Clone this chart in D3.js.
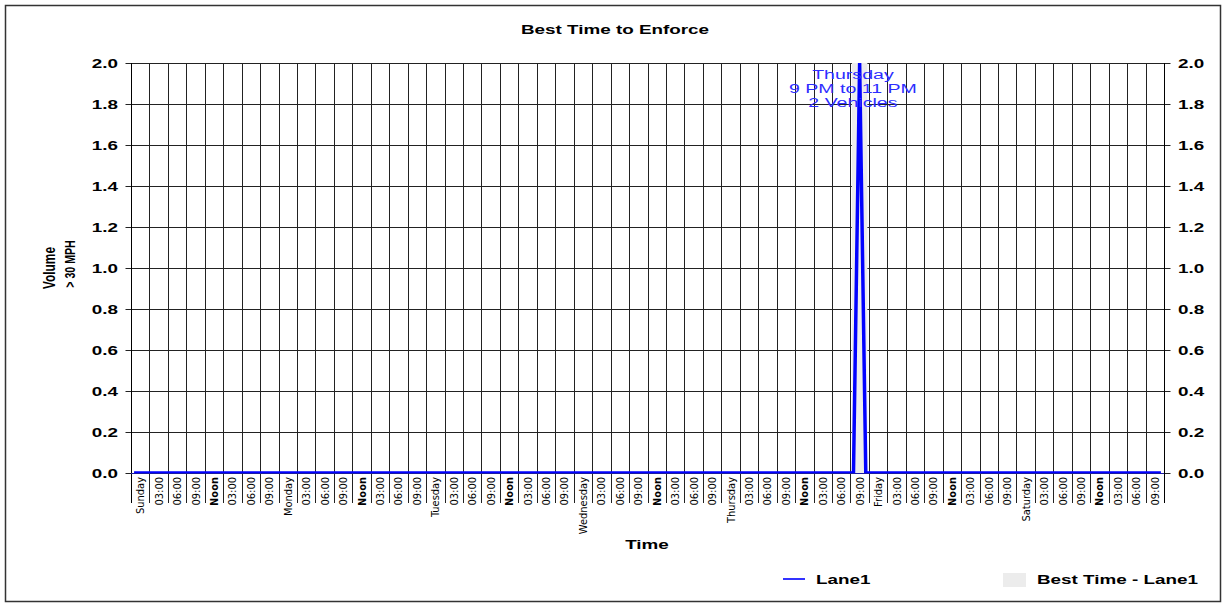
<!DOCTYPE html>
<html>
<head>
<meta charset="utf-8">
<script src="https://cdn.jsdelivr.net/npm/d3@7"></script>
<style>
  body { margin: 0; background: #fff; }
  svg { display: block; }
  .bold { font-family: "Liberation Sans", Arial, sans-serif; font-weight: bold; }
  .narrow { font-family: "Liberation Sans Narrow", "Arial Narrow", "DejaVu Sans Condensed", sans-serif; }
</style>
</head>
<body>
<svg id="chart" width="1226" height="604"></svg>
<script>
// days across the x axis, each split into 8 three-hour bins
var days = ["Sunday", "Monday", "Tuesday", "Wednesday", "Thursday", "Friday", "Saturday"];
var binLabels = ["", "03:00", "06:00", "09:00", "Noon", "03:00", "06:00", "09:00"];
var yTicks = [0, 0.2, 0.4, 0.6, 0.8, 1.0, 1.2, 1.4, 1.6, 1.8, 2.0];

// Lane1 volume > 30 MPH, hourly, one row per day (00:00 .. 23:00)
var lane1Sunday    = [0,0,0,0,0,0,0,0,0,0,0,0,0,0,0,0,0,0,0,0,0,0,0,0];
var lane1Monday    = [0,0,0,0,0,0,0,0,0,0,0,0,0,0,0,0,0,0,0,0,0,0,0,0];
var lane1Tuesday   = [0,0,0,0,0,0,0,0,0,0,0,0,0,0,0,0,0,0,0,0,0,0,0,0];
var lane1Wednesday = [0,0,0,0,0,0,0,0,0,0,0,0,0,0,0,0,0,0,0,0,0,0,0,0];
var lane1Thursday  = [0,0,0,0,0,0,0,0,0,0,0,0,0,0,0,0,0,0,0,0,0,0,2,0];
var lane1Friday    = [0,0,0,0,0,0,0,0,0,0,0,0,0,0,0,0,0,0,0,0,0,0,0,0];
var lane1Saturday  = [0,0,0,0,0,0,0,0,0,0,0,0,0,0,0,0,0,0,0,0,0,0,0,0];

// best time window (hours of week) and its note
var bestTime = [117, 120];
var bestNote = ["Thursday", "9 PM to 11 PM", "2 Vehicles"];

var lane1 = [].concat(lane1Sunday, lane1Monday, lane1Tuesday, lane1Wednesday,
                      lane1Thursday, lane1Friday, lane1Saturday);

var svg = d3.select("#chart");
var plotL = 131, plotR = 1164, plotT = 63, plotB = 473;
var wide = 1.45; // the source text is drawn stretched sideways

var x = d3.scaleLinear().domain([0, 168]).range([plotL, plotR]);
var y = d3.scaleLinear().domain([0, 2]).range([plotB, plotT]);

function wideText(g, px, py, txt, anchor) {
  return g.append("text").attr("class", "bold").attr("font-size", 13)
    .attr("text-anchor", anchor || "start")
    .attr("transform", "translate(" + px + "," + py + ") scale(" + wide + ",1)")
    .text(txt);
}

// outer frame
svg.append("rect")
  .attr("x", 5.5).attr("y", 5.5).attr("width", 1215).attr("height", 596)
  .attr("fill", "none").attr("stroke", "#333").attr("stroke-width", 1.5);

wideText(svg, 615, 34, "Best Time to Enforce", "middle");

// bins
var bins = [];
days.forEach(function (d, i) {
  binLabels.forEach(function (b, j) {
    bins.push({ start: i * 24 + j * 3, label: j === 0 ? d : b });
  });
});

// grid
var grid = svg.append("g").attr("stroke", "#222").attr("stroke-width", 1);
grid.selectAll("line.h").data(yTicks).enter().append("line")
  .attr("x1", plotL).attr("x2", plotR)
  .attr("y1", function (d) { return Math.round(y(d)) + 0.5; })
  .attr("y2", function (d) { return Math.round(y(d)) + 0.5; });
grid.selectAll("line.v").data(bins.concat([{ start: 168 }])).enter().append("line")
  .attr("x1", function (d) { return Math.round(x(d.start)) + 0.5; })
  .attr("x2", function (d) { return Math.round(x(d.start)) + 0.5; })
  .attr("y1", plotT).attr("y2", plotB + 30);

// best time band
svg.append("rect")
  .attr("x", x(bestTime[0]) + 1.5).attr("y", plotT)
  .attr("width", x(bestTime[1]) - x(bestTime[0]) - 3)
  .attr("height", plotB - plotT)
  .attr("fill", "#ececec");

// y axes
var yl = svg.append("g").attr("transform", "translate(" + (plotL + 0.5) + ",0)")
  .call(d3.axisLeft(y).tickValues(yTicks).tickSize(6).tickFormat(d3.format(".1f")));
var yr = svg.append("g").attr("transform", "translate(" + (plotR + 0.5) + ",0)")
  .call(d3.axisRight(y).tickValues(yTicks).tickSize(6).tickFormat(d3.format(".1f")));
[[yl, -13.5], [yr, 13.5]].forEach(function (p) {
  var g = p[0];
  g.select(".domain").remove();
  g.selectAll("line").attr("stroke", "#222");
  g.selectAll("text").attr("class", "bold").attr("font-size", 13).attr("fill", "#000")
    .attr("x", 0)
    .attr("transform", "translate(" + p[1] + ",0) scale(" + wide + ",1)");
});
svg.append("line").attr("x1", plotL + 0.5).attr("x2", plotL + 0.5)
  .attr("y1", plotT).attr("y2", plotB + 30).attr("stroke", "#000");
svg.append("line").attr("x1", plotR + 0.5).attr("x2", plotR + 0.5)
  .attr("y1", plotT).attr("y2", plotB + 30).attr("stroke", "#000");

// x tick labels
svg.append("g").selectAll("text").data(bins).enter().append("text")
  .attr("class", "narrow")
  .attr("font-size", 11)
  .attr("font-weight", function (d) { return d.label === "Noon" ? "bold" : "normal"; })
  .attr("text-anchor", "end")
  .attr("transform", function (d) {
    return "translate(" + (x(d.start + 1.5) + 4) + "," + (plotB + 4) + ") rotate(-90)";
  })
  .text(function (d) { return d.label; });

// Lane1 line
svg.append("clipPath").attr("id", "plot").append("rect")
  .attr("x", plotL).attr("y", plotT).attr("width", plotR - plotL).attr("height", plotB - plotT + 0.5);
var line = d3.line()
  .x(function (d, i) { return x(i + 0.5); })
  .y(function (d) { return y(d); });
svg.append("path").datum(lane1)
  .attr("clip-path", "url(#plot)")
  .attr("d", line)
  .attr("fill", "none").attr("stroke", "#0000ff").attr("stroke-width", 3.5);
svg.append("line").attr("x1", plotL).attr("x2", plotR)
  .attr("y1", plotB + 0.5).attr("y2", plotB + 0.5)
  .attr("stroke", "#1a1aa0").attr("stroke-width", 1);

// note
svg.append("g").selectAll("text").data(bestNote).enter().append("text")
  .attr("font-family", "Liberation Sans, Arial, sans-serif")
  .attr("font-size", 13.5).attr("fill", "#2d2dff").attr("text-anchor", "middle")
  .attr("transform", function (d, i) {
    return "translate(" + (x(bestTime[0]) + 2.5) + "," + (79 + i * 14) + ") scale(" + wide + ",1)";
  })
  .text(function (d) { return d; });

// axis titles
wideText(svg, 647, 549, "Time", "middle");
svg.append("text").attr("class", "bold").attr("font-size", 17)
  .attr("text-anchor", "middle")
  .attr("transform", "translate(55,268) rotate(-90) scale(0.7,1)").text("Volume");
svg.append("text").attr("class", "bold").attr("font-size", 14)
  .attr("text-anchor", "middle")
  .attr("transform", "translate(75,264) rotate(-90) scale(0.76,1)").text("> 30 MPH");

// legend
svg.append("line").attr("x1", 783).attr("x2", 805).attr("y1", 579).attr("y2", 579)
  .attr("stroke", "#3333ff").attr("stroke-width", 2);
wideText(svg, 816, 584, "Lane1");
svg.append("rect").attr("x", 1003).attr("y", 573).attr("width", 23).attr("height", 14)
  .attr("fill", "#ececec");
wideText(svg, 1037, 584, "Best Time - Lane1");
</script>
</body>
</html>
